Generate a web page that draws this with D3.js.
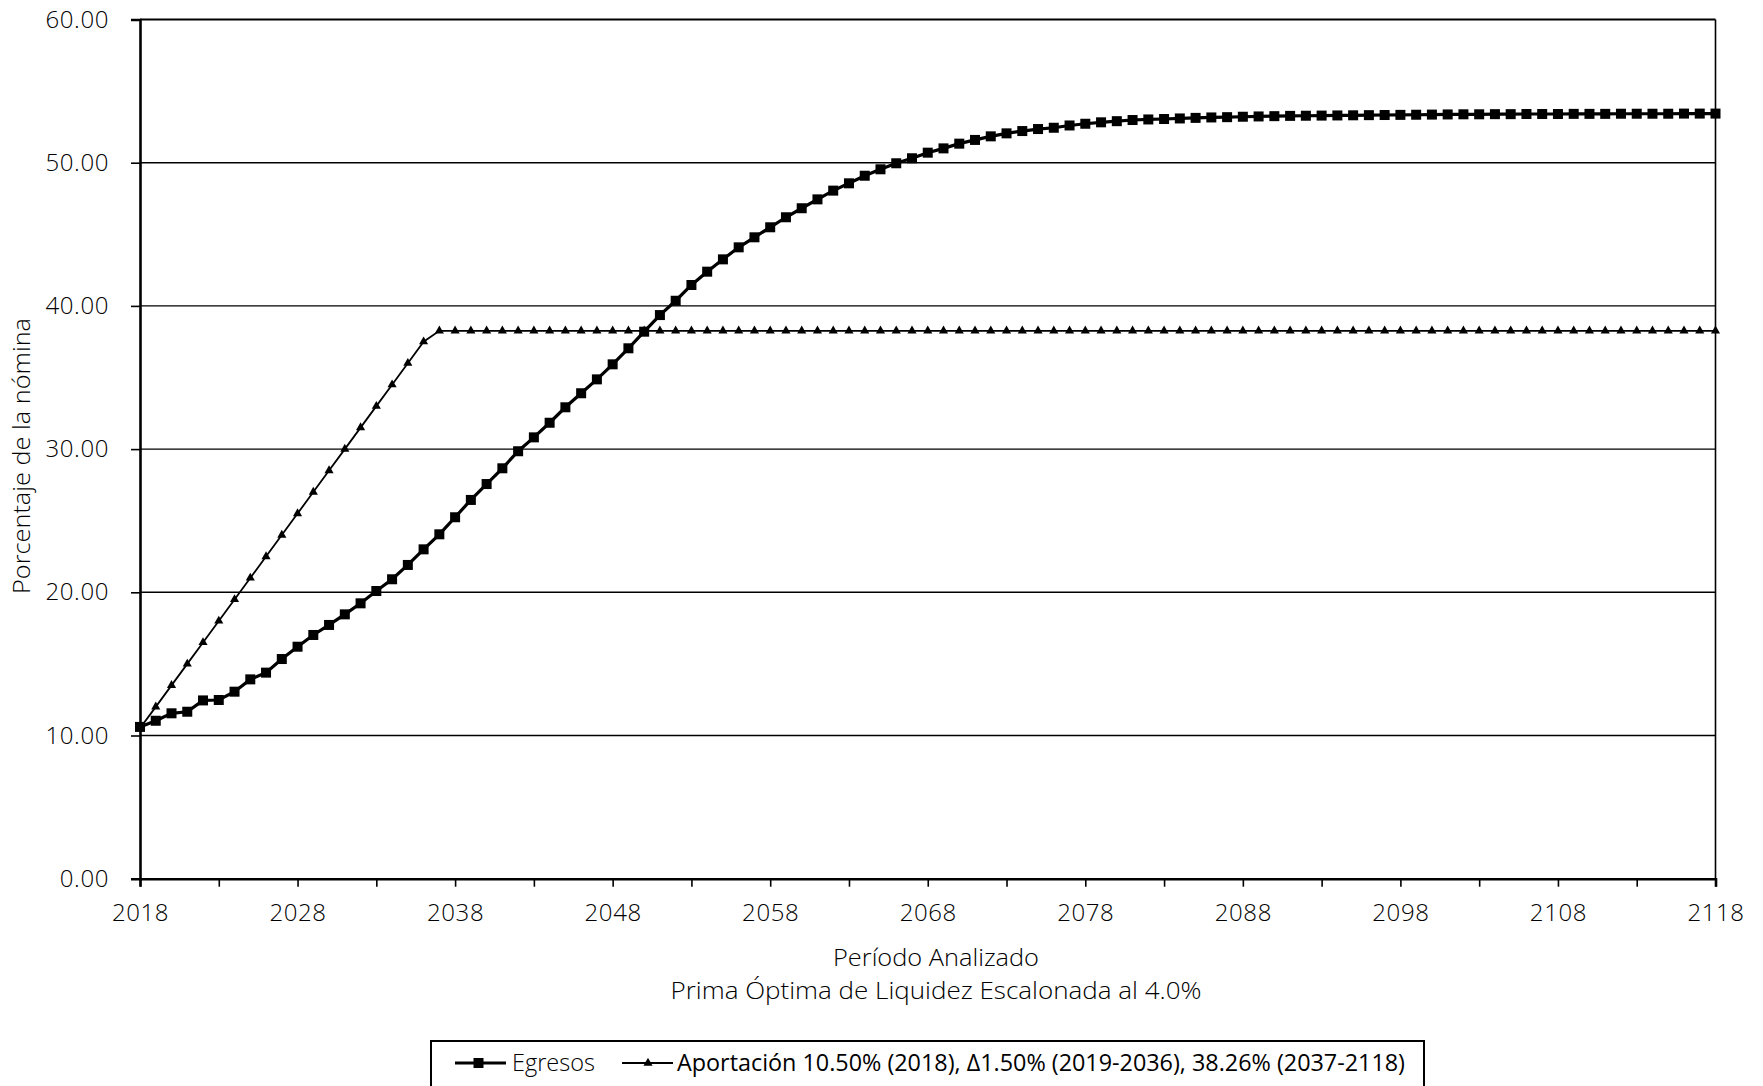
<!DOCTYPE html>
<html>
<head>
<meta charset="utf-8">
<script src="https://cdn.jsdelivr.net/npm/d3@7"></script>
<style>
  html, body { margin: 0; padding: 0; background: #fff; }
  svg { display: block; font-family: "Open Sans", "DejaVu Sans", sans-serif; }
</style>
</head>
<body>
<div id="chart"></div>
<script>
// ---------------- DATA ----------------
const years = d3.range(2018, 2119); // 2018..2118 categories (years)

const egresos = [
  10.60, 11.03, 11.55, 11.66, 12.45, 12.48, 13.06, 13.92, 14.39, 15.34,  // 2018-2027
  16.20, 17.02, 17.72, 18.46, 19.23, 20.09, 20.91, 21.91, 23.00, 24.05,  // 2028-2037
  25.24, 26.45, 27.56, 28.66, 29.85, 30.82, 31.84, 32.92, 33.90, 34.87,  // 2038-2047
  35.92, 37.04, 38.20, 39.36, 40.36, 41.46, 42.39, 43.25, 44.09, 44.79,  // 2048-2057
  45.49, 46.19, 46.82, 47.44, 48.05, 48.56, 49.09, 49.54, 49.96, 50.31,  // 2058-2067
  50.70, 51.00, 51.33, 51.59, 51.84, 52.05, 52.21, 52.35, 52.44, 52.60,  // 2068-2077
  52.72, 52.82, 52.90, 52.98, 53.02, 53.05, 53.09, 53.13, 53.16, 53.18,  // 2078-2087
  53.21, 53.23, 53.25, 53.27, 53.28, 53.29, 53.30, 53.31, 53.32, 53.33,  // 2088-2097
  53.34, 53.35, 53.36, 53.37, 53.38, 53.38, 53.39, 53.39, 53.40, 53.40,  // 2098-2107
  53.40, 53.41, 53.41, 53.41, 53.42, 53.42, 53.42, 53.42, 53.43, 53.43,  // 2108-2117
  53.43                                                                  // 2118
];

const aportacion = [
  10.50, 12.00, 13.50, 15.00, 16.50, 18.00, 19.50, 21.00, 22.50, 24.00,  // 2018-2027
  25.50, 27.00, 28.50, 30.00, 31.50, 33.00, 34.50, 36.00, 37.50, 38.26,  // 2028-2037
  38.26, 38.26, 38.26, 38.26, 38.26, 38.26, 38.26, 38.26, 38.26, 38.26,  // 2038-2047
  38.26, 38.26, 38.26, 38.26, 38.26, 38.26, 38.26, 38.26, 38.26, 38.26,  // 2048-2057
  38.26, 38.26, 38.26, 38.26, 38.26, 38.26, 38.26, 38.26, 38.26, 38.26,  // 2058-2067
  38.26, 38.26, 38.26, 38.26, 38.26, 38.26, 38.26, 38.26, 38.26, 38.26,  // 2068-2077
  38.26, 38.26, 38.26, 38.26, 38.26, 38.26, 38.26, 38.26, 38.26, 38.26,  // 2078-2087
  38.26, 38.26, 38.26, 38.26, 38.26, 38.26, 38.26, 38.26, 38.26, 38.26,  // 2088-2097
  38.26, 38.26, 38.26, 38.26, 38.26, 38.26, 38.26, 38.26, 38.26, 38.26,  // 2098-2107
  38.26, 38.26, 38.26, 38.26, 38.26, 38.26, 38.26, 38.26, 38.26, 38.26,  // 2108-2117
  38.26                                                                  // 2118
];

const yTicks = [0, 10, 20, 30, 40, 50, 60];
const xLabelTicks = [2018, 2028, 2038, 2048, 2058, 2068, 2078, 2088, 2098, 2108, 2118];
const xMinorTicks = [2023, 2033, 2043, 2053, 2063, 2073, 2083, 2093, 2103, 2113];

const seriesNames = ["Egresos", "Aportación 10.50% (2018), Δ1.50% (2019-2036), 38.26% (2037-2118)"];
const yTitle = "Porcentaje de la nómina";
const xTitle1 = "Período Analizado";
const xTitle2 = "Prima Óptima de Liquidez Escalonada al 4.0%";

// ---------------- LAYOUT ----------------
const W = 1763, H = 1086;
const plot = { left: 140, right: 1715.5, top: 19.5, bottom: 878.7 };
const TXT = "#000";

const svg = d3.select("#chart").append("svg")
  .attr("width", W).attr("height", H);

const x = d3.scaleLinear().domain([2018, 2118]).range([plot.left, plot.right]);
const y = d3.scaleLinear().domain([0, 60]).range([plot.bottom, plot.top]);

// gridlines
svg.append("g").selectAll("line")
  .data(yTicks.filter(v => v > 0 && v < 60))
  .join("line")
  .attr("x1", plot.left).attr("x2", plot.right)
  .attr("y1", d => y(d)).attr("y2", d => y(d))
  .attr("stroke", "#000").attr("stroke-width", 1.4);

// plot border top & right
svg.append("line").attr("x1", plot.left).attr("x2", plot.right)
  .attr("y1", y(60)).attr("y2", y(60)).attr("stroke", "#000").attr("stroke-width", 2);
svg.append("line").attr("x1", plot.right).attr("x2", plot.right)
  .attr("y1", y(60)).attr("y2", y(0)).attr("stroke", "#000").attr("stroke-width", 1.6);

// Y axis
const yAxis = d3.axisLeft(y).tickValues(yTicks).tickSize(9).tickPadding(22)
  .tickFormat(d3.format(".2f"));
const gy = svg.append("g").attr("transform", `translate(${plot.left},0)`).call(yAxis);
gy.select(".domain").attr("stroke", "#000").attr("stroke-width", 2.6);
gy.selectAll(".tick line").attr("stroke", "#000").attr("stroke-width", 1.6);
gy.selectAll(".tick text").attr("font-size", 24).attr("fill", TXT)
  .attr("font-weight", 350).attr("letter-spacing", 0.6)
  .attr("font-family", "'Open Sans', sans-serif");

// X axis (labels every 10 years, ticks every 5)
const xAxis = d3.axisBottom(x).tickValues(xLabelTicks).tickSize(8).tickPadding(17)
  .tickFormat(d3.format("d"));
const gx = svg.append("g").attr("transform", `translate(0,${plot.bottom})`).call(xAxis);
gx.select(".domain").attr("stroke", "#000").attr("stroke-width", 2.6);
gx.selectAll(".tick line").attr("stroke", "#000").attr("stroke-width", 1.6);
gx.selectAll(".tick text").attr("font-size", 24).attr("fill", TXT)
  .attr("font-weight", 350).attr("letter-spacing", 0.6)
  .attr("font-family", "'Open Sans', sans-serif");
const xMinorAxis = d3.axisBottom(x).tickValues(xMinorTicks).tickSize(8).tickFormat("");
const gxm = svg.append("g").attr("transform", `translate(0,${plot.bottom})`).call(xMinorAxis);
gxm.select(".domain").remove();
gxm.selectAll(".tick line").attr("stroke", "#000").attr("stroke-width", 1.6);

// titles
svg.append("text")
  .attr("transform", `translate(24,${(318 + 594) / 2}) rotate(-90)`)
  .attr("text-anchor", "middle").attr("dominant-baseline", "middle")
  .attr("font-size", 23).attr("font-weight", 350).attr("fill", TXT)
  .attr("textLength", 276).attr("lengthAdjust", "spacingAndGlyphs")
  .text(yTitle);
svg.append("text").attr("x", 936).attr("y", 966)
  .attr("text-anchor", "middle").attr("font-size", 23).attr("font-weight", 350).attr("fill", TXT)
  .attr("textLength", 206).attr("lengthAdjust", "spacingAndGlyphs")
  .text(xTitle1);
svg.append("text").attr("x", 936).attr("y", 999)
  .attr("text-anchor", "middle").attr("font-size", 23).attr("font-weight", 350).attr("fill", TXT)
  .attr("textLength", 531).attr("lengthAdjust", "spacingAndGlyphs")
  .text(xTitle2);

// series
const line = d3.line().x(d => x(d[0])).y(d => y(d[1]));
const egData = years.map((yr, i) => [yr, egresos[i]]);
const apData = years.map((yr, i) => [yr, aportacion[i]]);

svg.append("path").datum(apData).attr("d", line)
  .attr("fill", "none").attr("stroke", "#000").attr("stroke-width", 1.8);
const tri = d3.symbol().type(d3.symbolTriangle).size(36);
svg.append("g").selectAll("path").data(apData).join("path")
  .attr("transform", d => `translate(${x(d[0])},${y(d[1])})`)
  .attr("d", tri).attr("fill", "#000");

svg.append("path").datum(egData).attr("d", line)
  .attr("fill", "none").attr("stroke", "#000").attr("stroke-width", 3.2);
svg.append("g").selectAll("rect").data(egData).join("rect")
  .attr("x", d => x(d[0]) - 5).attr("y", d => y(d[1]) - 5)
  .attr("width", 10).attr("height", 10).attr("fill", "#000");

// legend
const lg = svg.append("g");
lg.append("rect").attr("x", 431).attr("y", 1041).attr("width", 993).attr("height", 80)
  .attr("fill", "#fff").attr("stroke", "#000").attr("stroke-width", 2);
lg.append("line").attr("x1", 455).attr("x2", 506).attr("y1", 1063).attr("y2", 1063)
  .attr("stroke", "#000").attr("stroke-width", 3.2);
lg.append("rect").attr("x", 473.5).attr("y", 1058).attr("width", 10).attr("height", 10).attr("fill", "#000");
lg.append("text").attr("x", 512).attr("y", 1071).attr("font-size", 23).attr("font-weight", 350).attr("fill", TXT)
  .attr("textLength", 83).attr("lengthAdjust", "spacingAndGlyphs")
  .text(seriesNames[0]);
lg.append("line").attr("x1", 622).attr("x2", 673).attr("y1", 1063).attr("y2", 1063)
  .attr("stroke", "#000").attr("stroke-width", 1.8);
lg.append("path").attr("transform", "translate(648,1063)").attr("d", tri).attr("fill", "#000");
lg.append("text").attr("x", 677).attr("y", 1071).attr("font-size", 23).attr("fill", TXT)
  .attr("textLength", 728).attr("lengthAdjust", "spacingAndGlyphs")
  .text(seriesNames[1]);
</script>
</body>
</html>
